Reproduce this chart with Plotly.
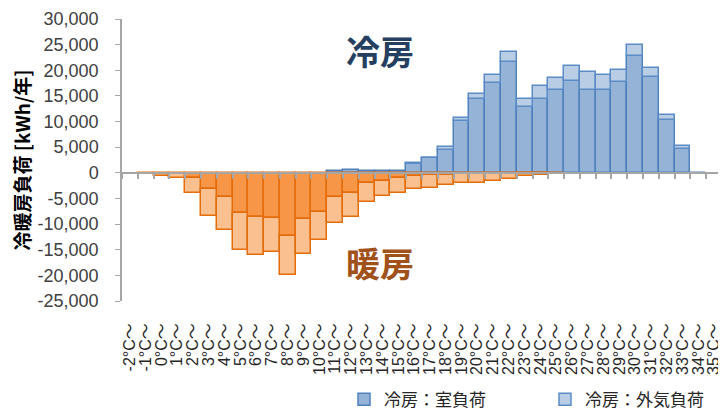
import numpy as np
import plotly.graph_objects as go

temps = list(range(-2, 36))
labels = [f"{t}°C～" for t in temps]

# 冷房 (cooling)
cool_room = [0, 0, 0, 0, 0, 0, 0, 0, 0, 0, 0, 0, 0, 400, 550, 400, 400, 400,
             1750, 2800, 4540, 10050, 14340, 17580, 21540, 12910, 14400, 16120,
             17900, 16090, 16090, 17770, 22770, 18620, 10330, 4730, 60, 0]
cool_air = [0, 0, 0, 0, 0, 0, 0, 0, 0, 0, 0, 0, 0, 0, 0, 0, 0, 0,
            70, 150, 520, 720, 960, 1490, 1940, 1490, 2530, 2430,
            2890, 3500, 2900, 2210, 2230, 1750, 930, 520, 0, 0]
# 暖房 (heating)
heat_room = [0, -200, -250, -300, -1100, -3200, -4800, -7800, -8700, -8900,
             -12300, -9080, -7600, -4800, -4000, -1950, -1560, -1100, -550,
             -450, -350, -300, -250, -200, -150, -100, -50, 0,
             0, 0, 0, 0, 0, 0, 0, 0, 0, 0]
heat_air = [0, -50, -300, -800, -2900, -5250, -6350, -7250, -7400, -6550,
            -7650, -6820, -5500, -4930, -4700, -3690, -2980, -2900, -2600,
            -2600, -2050, -1770, -1700, -1420, -1080, -550, -400, -80,
            0, 0, 0, 0, 0, 0, 0, 0, 0, 0]

yticks = list(range(-25000, 30001, 5000))
ytext = [f"{v:,}" for v in yticks]

n = len(temps)
xi = np.arange(n)


def nz(vals):
    # zero values are left out so that they do not stack as empty bars
    return [v if v != 0 else None for v in vals]


fig = go.Figure()
fig.add_bar(x=xi, y=nz(cool_room), name="冷房：室負荷", legend="legend",
            marker=dict(color="#95b3d7", line=dict(color="#4f81bd", width=1.5)))
fig.add_bar(x=xi, y=nz(cool_air), name="冷房：外気負荷", legend="legend2",
            marker=dict(color="#b9cde5", line=dict(color="#5b8cc6", width=1.5)))
fig.add_bar(x=xi, y=nz(heat_room), name="暖房：室負荷", showlegend=False,
            marker=dict(color="#f79646", line=dict(color="#e46c0a", width=1.5)))
fig.add_bar(x=xi, y=nz(heat_air), name="暖房：外気負荷", showlegend=False,
            marker=dict(color="#fac090", line=dict(color="#e46c0a", width=1.5)))

ymin, ymax = yticks[0], yticks[-1]
zero_frac = (0 - ymin) / (ymax - ymin)

legend_font = dict(size=17, color="#262626", family="Noto Sans CJK JP")

# the page body adds an 8px offset, so the figure is 8px smaller than the window
fig.update_layout(
    barmode="relative",
    bargap=0,
    width=718, height=406,
    margin=dict(l=113.5, r=4, t=10.5, b=112.8, autoexpand=False),
    paper_bgcolor="white", plot_bgcolor="white",
    font=dict(family="Liberation Sans, Noto Sans CJK JP", color="#595959", size=14),
    showlegend=True,
    legend=dict(x=0.37, xanchor="left", y=-0.35, yanchor="middle",
                font=legend_font, bgcolor="rgba(0,0,0,0)"),
    legend2=dict(x=0.705, xanchor="left", y=-0.35, yanchor="middle",
                 font=legend_font, bgcolor="rgba(0,0,0,0)"),
    xaxis=dict(range=[-0.5, n - 0.5], tickmode="array", tickvals=xi, ticktext=labels,
               tickangle=-90, showline=False, ticks="", showgrid=False, zeroline=False,
               ticklabelstandoff=18,
               tickfont=dict(size=16, color="#262626", family="Liberation Sans, Noto Sans CJK JP")),
    xaxis2=dict(overlaying="x", matches="x", anchor="free", position=zero_frac,
                side="bottom", tickmode="array", tickvals=np.arange(n + 1) - 0.5,
                showticklabels=False, ticks="outside", ticklen=5, tickwidth=1.5,
                tickcolor="#a6a6a6", showline=True, linecolor="#a6a6a6", linewidth=2,
                showgrid=False, zeroline=False),
    yaxis=dict(range=[ymin, ymax], tickmode="array", tickvals=yticks, ticktext=ytext,
               showline=True, linecolor="#a6a6a6", linewidth=1.5, ticks="outside",
               ticklen=5, tickcolor="#a6a6a6", showgrid=False, zeroline=False,
               ticklabelstandoff=13,
               tickfont=dict(size=18, color="#404040", family="Liberation Sans"),
               title=dict(text="<b>冷暖房負荷 [kWh/年]</b>",
                          font=dict(size=19, color="#000000", family="Noto Sans CJK JP"),
                          standoff=8)),
)

# invisible trace on xaxis2 so that the zero-line axis is rendered
fig.add_scatter(x=xi, y=[0] * n, xaxis="x2", mode="none", showlegend=False, hoverinfo="skip")

fig.add_annotation(text="<b>冷房</b>", x=15.86, y=23800, xref="x", yref="y",
                   showarrow=False, font=dict(size=34, color="#243f60", family="Noto Sans CJK JP"))
fig.add_annotation(text="<b>暖房</b>", x=15.86, y=-17400, xref="x", yref="y",
                   showarrow=False, font=dict(size=34, color="#a0521a", family="Noto Sans CJK JP"))

fig.write_html("out.html")
